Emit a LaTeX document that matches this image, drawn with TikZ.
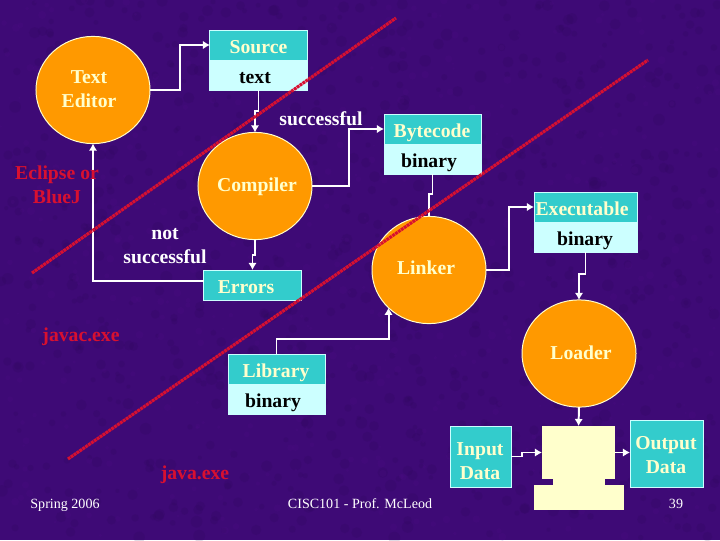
\documentclass[tikz,border=0pt]{standalone}
\usepackage{fontspec}
\setmainfont{Liberation Serif}
\usetikzlibrary{arrows.meta,positioning,shapes.geometric}
\definecolor{slidebg}{HTML}{3E0A76}
\definecolor{blotdark}{HTML}{26084E}
\definecolor{blotlight}{HTML}{55108C}
\definecolor{stageorange}{HTML}{FF9900}
\definecolor{headteal}{HTML}{33CCCC}
\definecolor{bodycyan}{HTML}{CCFFFF}
\definecolor{cream}{HTML}{FFFFCC}
\definecolor{linered}{HTML}{D81030}
\tikzset{
  stage/.style={ellipse,draw=cream,line width=0.7pt,fill=stageorange,inner sep=0pt,outer sep=0pt,minimum width=2.85cm,minimum height=2.68cm},
  headbox/.style={rectangle,draw=bodycyan,line width=0.7pt,fill=headteal,inner sep=0pt,outer sep=0pt,minimum width=2.425cm,minimum height=0.75cm},
  bodybox/.style={headbox,fill=bodycyan},
  pcpart/.style={rectangle,fill=cream,inner sep=0pt,outer sep=0pt},
  conn/.style={draw=white,line width=1.4pt,-{Latex[length=5pt,width=6pt]}},
  plain/.style={draw=white,line width=1.4pt},
  lbl/.style={font=\bfseries\fontsize{14}{17}\selectfont,align=center,inner sep=0pt,text height=9.5pt,text depth=3pt},
  creamlbl/.style={lbl,text=cream},
  whitelbl/.style={lbl,text=white},
  blacklbl/.style={lbl,text=black},
  redlbl/.style={lbl,text=linered},
  footer/.style={font=\fontsize{10}{12}\selectfont,text=white,inner sep=0pt,text height=7pt,text depth=2pt},
  divider/.style={draw=linered,line width=2.2pt,dash pattern=on 2pt off 0.5pt}
}
\begin{document}
\begin{tikzpicture}[x=0.025cm,y=-0.025cm]
\useasboundingbox (0,0) rectangle (720,540);
\fill[slidebg] (0,0) rectangle (720,540);
% mottled backdrop
\pgfmathsetseed{39}
\begin{scope}
\clip (0,0) rectangle (720,540);
\foreach \i in {1,...,900}{
  \pgfmathsetmacro{\bx}{720*rnd}
  \pgfmathsetmacro{\by}{540*rnd}
  \pgfmathsetmacro{\br}{2+4*rnd}
  \fill[blotdark,opacity=0.14] (\bx,\by) circle[radius=\br*0.025cm];
}
\foreach \i in {1,...,500}{
  \pgfmathsetmacro{\bx}{720*rnd}
  \pgfmathsetmacro{\by}{540*rnd}
  \pgfmathsetmacro{\br}{1+3*rnd}
  \fill[blotlight,opacity=0.16] (\bx,\by) circle[radius=\br*0.025cm];
}
\end{scope}
% stages
\node[stage] (editor) at (93,90) {};
\node[stage] (compiler) at (255,186) {};
\node[stage] (linker) at (429,270) {};
\node[stage] (loader) at (579,353.5) {};
% files
\node[headbox] (sourcehead) at (258.5,45) {};
\node[bodybox,below=0pt of sourcehead] (sourcebody) {};
\node[headbox] (bytehead) at (432.5,129) {};
\node[bodybox,below=0pt of bytehead] (bytebody) {};
\node[headbox,minimum width=2.575cm] (exehead) at (585.5,207) {};
\node[bodybox,minimum width=2.575cm,below=0pt of exehead] (exebody) {};
\node[headbox] (libhead) at (276.5,369) {};
\node[bodybox,below=0pt of libhead] (libbody) {};
\node[headbox] (errors) at (252.5,285) {};
\node[headbox,minimum width=1.525cm,minimum height=1.525cm] (input) at (480.5,456.5) {};
\node[headbox,minimum width=1.825cm,minimum height=1.675cm] (output) at (666.5,453.5) {};
% computer
\node[pcpart,minimum width=1.3cm,minimum height=0.2cm] (neck) at (579,482) {};
\node[pcpart,minimum width=1.825cm,minimum height=1.325cm] (monitor) at (578.5,452.5) {};
\node[pcpart,minimum width=2.25cm,minimum height=0.625cm] (base) at (579,497.5) {};
% connectors
\draw[conn] (editor.east) -- ++(30,0) |- (sourcehead.west);
\draw[conn] (sourcebody.south) -- ++(0,21) -| (compiler.north);
\draw[conn] (compiler.east) -- ++(37,0) |- (bytehead.west);
\draw[plain] (bytebody.south) -- ++(0,20) -| (linker.north);
\draw[conn] (linker.east) -- ++(23,0) |- (exehead.west);
\draw[conn] (exebody.south) -- ++(0,22) -| (loader.north);
\draw[conn] (compiler.south) -- ++(0,15) -| (errors.north);
\draw[conn] ([yshift=0.1cm]errors.west) -| (editor.south);
\draw[conn] (libhead.north) -- ++(0,-15) -| (linker.223);
\draw[conn] (loader.south) -- (monitor.north);
\draw[conn] (input.east) -- ++(11,0) |- (monitor.west);
\draw[conn] (monitor.east) -- (monitor.east -| output.west);
% dividing lines
\draw[divider] (32,273) -- (396,18);
\draw[divider] (68,459) -- (648,60);
% texts
\node[creamlbl] (editorlabel) at (89,103) {Text\\Editor};
\node[creamlbl] (compilerlabel) at (257,187) {Compiler};
\node[creamlbl] (linkerlabel) at (426,270) {Linker};
\node[creamlbl] (loaderlabel) at (581,355) {Loader};
\node[creamlbl] (sourcelabel) at (258.5,49) {Source};
\node[blacklbl] (textlabel) at (255,79) {text};
\node[creamlbl] (bytelabel) at (432,133) {Bytecode};
\node[blacklbl] (bytebinary) at (429,163) {binary};
\node[creamlbl] (exelabel) at (582,211) {Executable};
\node[blacklbl] (exebinary) at (585,241) {binary};
\node[creamlbl] (errorslabel) at (246,289) {Errors};
\node[creamlbl] (liblabel) at (276,373) {Library};
\node[blacklbl] (libbinary) at (273,403) {binary};
\node[creamlbl] (inputlabel) at (480,475) {Input\\Data};
\node[creamlbl] (outputlabel) at (666,469) {Output\\Data};
\node[whitelbl] (oklabel) at (321,121) {successful};
\node[whitelbl] (notoklabel) at (165,259) {not\\successful};
\node[redlbl] (ideLabel) at (57,199) {Eclipse or\\BlueJ};
\node[redlbl] (javaclabel) at (81,337) {javac.exe};
\node[redlbl] (javalabel) at (195,475) {java.exe};
\node[footer] (datelabel) at (65,504.5) {Spring 2006};
\node[footer] (courselabel) at (360,504.5) {CISC101 - Prof. McLeod};
\node[footer] (pagelabel) at (676,504.5) {39};
\end{tikzpicture}
\end{document}
